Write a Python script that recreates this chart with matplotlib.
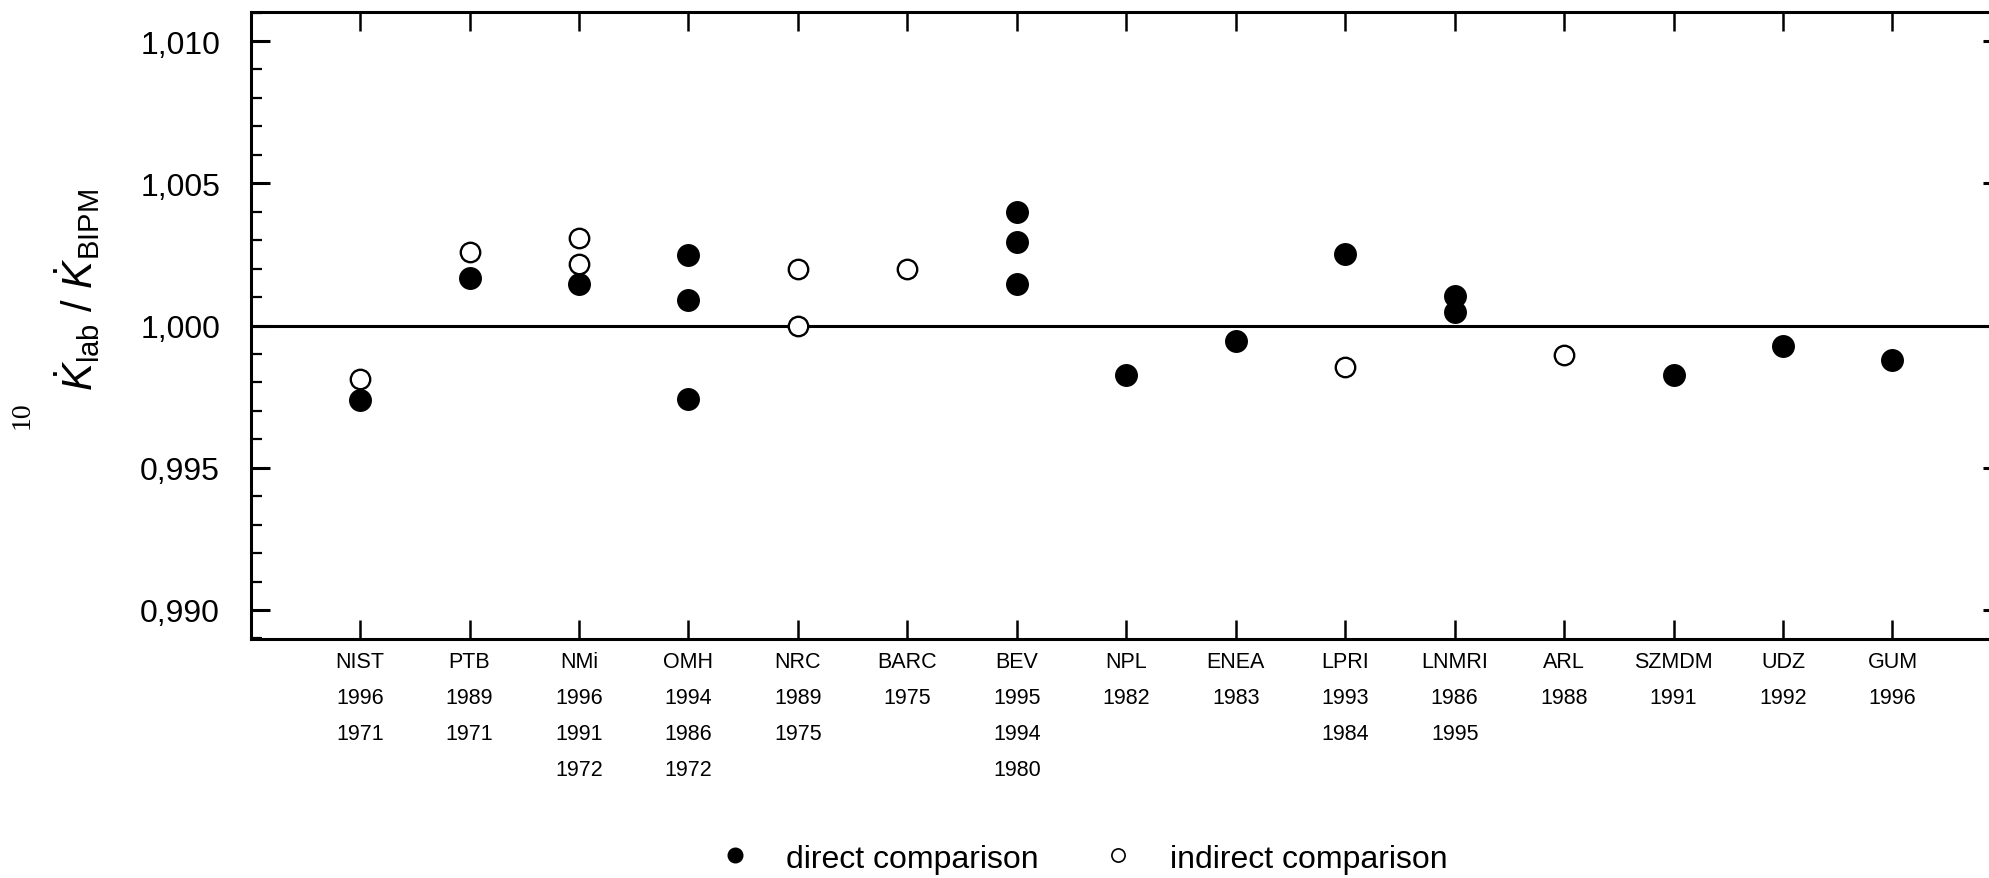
import numpy as np
import matplotlib
matplotlib.use("Agg")
import matplotlib.pyplot as plt
from matplotlib.lines import Line2D

plt.rcParams['font.family'] = ['Liberation Sans', 'DejaVu Sans']
plt.rcParams['mathtext.fontset'] = 'custom'
plt.rcParams['mathtext.rm'] = 'Liberation Sans'
plt.rcParams['mathtext.it'] = 'Liberation Sans:italic'

# laboratories and comparison years (tick labels)
labs = ["NIST", "PTB", "NMi", "OMH", "NRC", "BARC", "BEV", "NPL",
        "ENEA", "LPRI", "LNMRI", "ARL", "SZMDM", "UDZ", "GUM"]
years = [["1996", "1971"], ["1989", "1971"], ["1996", "1991", "1972"],
         ["1994", "1986", "1972"], ["1989", "1975"], ["1975"],
         ["1995", "1994", "1980"], ["1982"], ["1983"], ["1993", "1984"],
         ["1986", "1995"], ["1988"], ["1991"], ["1992"], ["1996"]]

# direct comparisons: (lab index, ratio)
direct_lab = [0, 1, 2, 3, 3, 3, 6, 6, 6, 7, 8, 9, 10, 10, 12, 13, 14]
direct_val = [0.99739, 1.00168, 1.00147, 1.00249, 1.00090, 0.99741,
              1.00400, 1.00293, 1.00145, 0.99826, 0.99945, 1.00250,
              1.00104, 1.00046, 0.99826, 0.99927, 0.99878]

# indirect comparisons
indirect_lab = [0, 1, 2, 2, 4, 4, 5, 9, 11]
indirect_val = [0.99811, 1.00260, 1.00309, 1.00217, 1.00200, 1.00000,
                1.00200, 0.99855, 0.99896]

yticks = [0.990, 0.995, 1.000, 1.005, 1.010]
ytick_labels = ["0,990", "0,995", "1,000", "1,005", "1,010"]

fig = plt.figure(figsize=(19.89, 8.79), dpi=100)
ax = fig.add_axes([0.126, 0.2719, 0.8805, 0.7133])

pos = np.arange(1, len(labs) + 1)
ax.axhline(1.000, color='black', lw=2.2, zorder=1)
ax.plot(pos[direct_lab], direct_val, 'o', color='black', ms=15.5, zorder=3)
ax.plot(pos[indirect_lab], indirect_val, 'o', mfc='white', mec='black',
        mew=1.7, ms=14, zorder=3)

ax.set_xlim(0, 16)
ax.set_ylim(0.98898, 1.01102)

ax.set_yticks(yticks)
ax.set_yticklabels(ytick_labels, fontsize=23)
ax.set_yticks(np.arange(0.989, 1.0111, 0.001), minor=True)
ax.set_xticks(pos)
ax.set_xticklabels([l + "\n" + "\n".join(y) for l, y in zip(labs, years)],
                   fontsize=15.5, linespacing=1.93, va='top')

ax.tick_params(axis='y', which='major', direction='in', length=13.5, width=2.2,
               left=True, right=True, pad=22)
ax.tick_params(axis='y', which='minor', direction='in', length=8, width=1.6,
               left=True, right=True)
ax.tick_params(axis='x', which='major', direction='in', length=13.5, width=1.8,
               top=True, bottom=True, pad=9)
for s in ax.spines.values():
    s.set_linewidth(2.2)

ax.set_ylabel(r'$\dot{K}_{\rm lab}\ /\ \dot{K}_{\rm BIPM}$', fontsize=30)
ax.yaxis.set_label_coords(-0.085, 0.558)

# scanned page number at the far left
fig.text(0.011, 0.528, "10", rotation=90, fontsize=20,
         family=['Liberation Serif', 'DejaVu Serif'], ha='center', va='center')

handles = [Line2D([], [], ls='none', marker='o', color='black', ms=10.5),
           Line2D([], [], ls='none', marker='o', mfc='white', mec='black',
                  mew=1.2, ms=9.5)]
fig.legend(handles, ["direct comparison", "indirect comparison"], ncol=2,
           loc='center', bbox_to_anchor=(0.5445, 0.022), frameon=False,
           fontsize=23, handlelength=1.0, handletextpad=1.1, columnspacing=2.0,
           borderpad=0)

fig.savefig("out.png", dpi=100)
